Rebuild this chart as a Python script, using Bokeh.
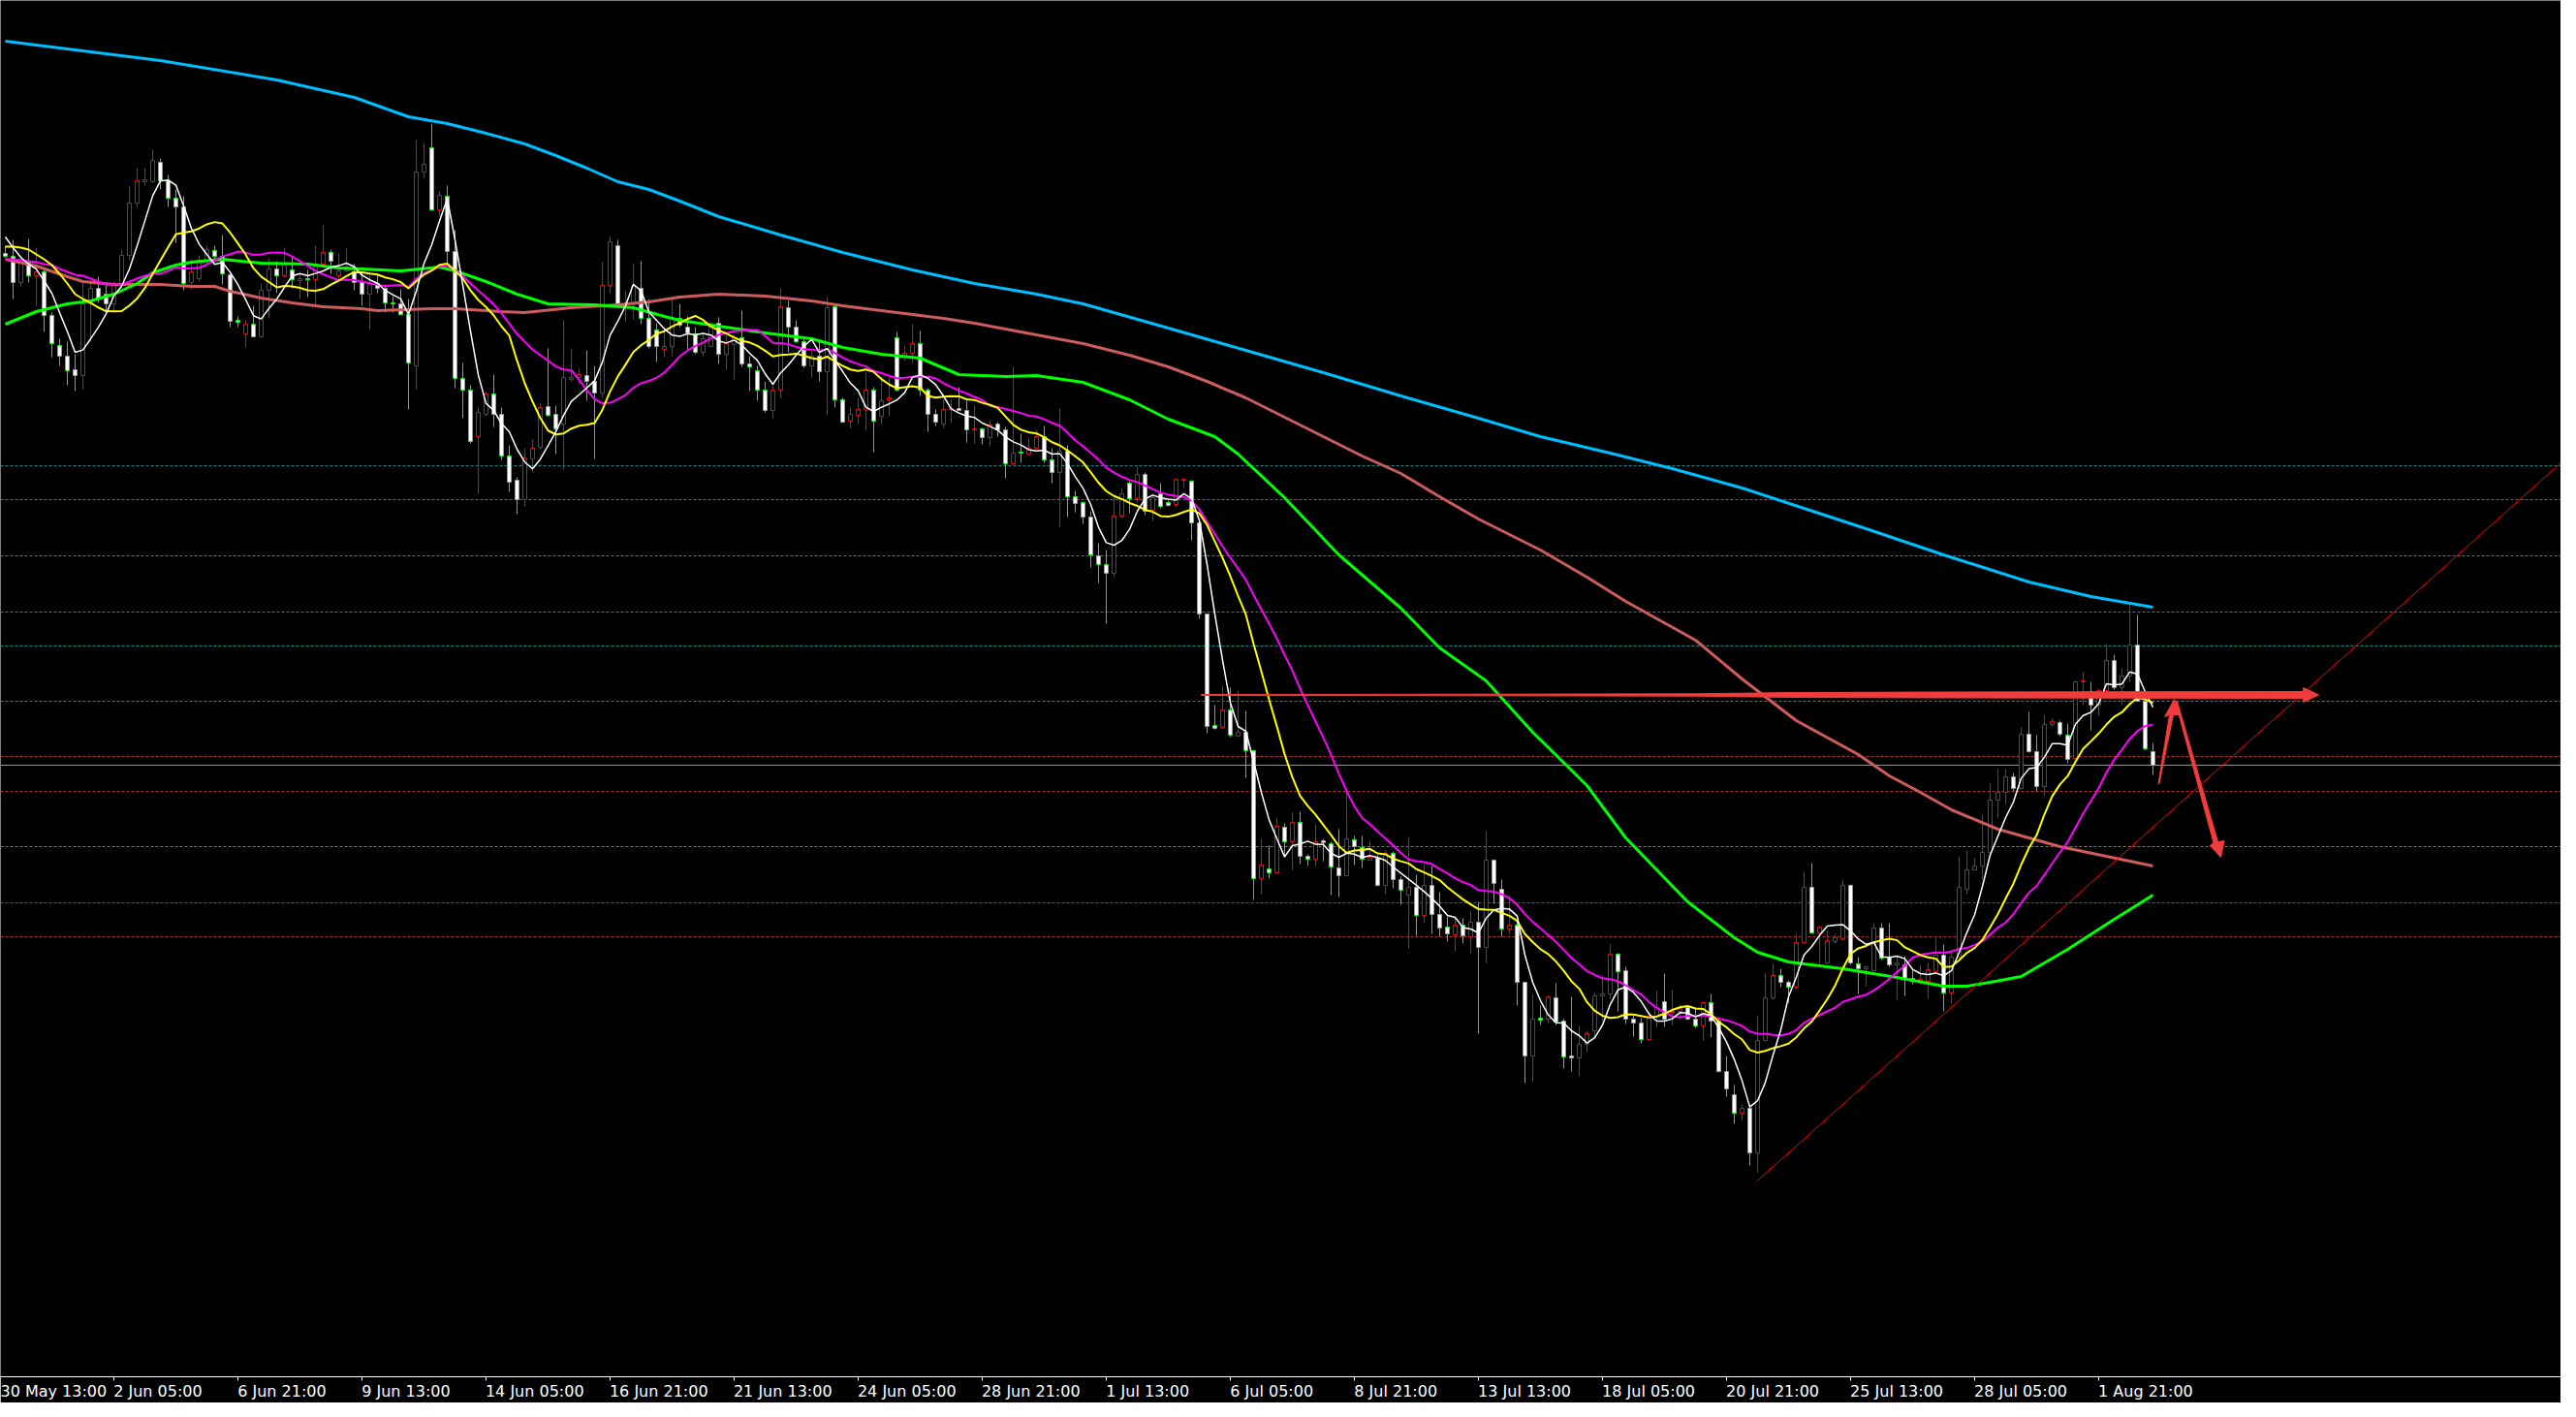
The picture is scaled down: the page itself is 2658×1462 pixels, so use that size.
from bokeh.plotting import figure
from bokeh.models import Range1d, FixedTicker, ColumnDataSource, Span, LinearAxis
from bokeh.embed import file_html
from bokeh.resources import INLINE

# ---------------- data (H4 candles, price in points) ----------------
opens = [1239,1236,1209,1230,1216,1220,1175,1144,1133,1119,
         1113,1187,1203,1197,1187,1206,1237,1291,1313,1313,
         1333,1314,1296,1287,1209,1213,1232,1242,1236,1217,
         1170,1156,1166,1153,1201,1223,1216,1222,1211,1213,
         1212,1228,1240,1216,1221,1220,1209,1197,1208,1203,
         1188,1187,1176,1123,1323,1348,1284,1298,1241,1110,
         1098,1050,1073,1094,1073,1030,1005,985,1027,1039,
         1081,1073,1063,1109,1111,1113,1107,1095,1206,1247,
         1186,1187,1203,1172,1160,1140,1143,1172,1163,1156,
         1137,1143,1167,1135,1145,1152,1125,1118,1098,1077,
         1098,1183,1163,1148,1123,1133,1117,1184,1088,1066,
         1072,1078,1098,1071,1088,1152,1133,1136,1146,1098,
         1073,1063,1078,1079,1077,1057,1058,1049,1063,1057,
         1022,1034,1032,1038,1050,1026,1013,1035,988,982,
         967,927,918,909,968,1002,986,1011,974,991,
         982,980,1005,1004,961,867,752,750,768,741,
         745,726,594,604,600,647,632,652,617,614,
         633,630,605,597,634,626,613,615,587,620,
         593,577,585,556,587,557,544,536,546,534,
         549,523,613,583,542,546,487,411,450,449,
         471,447,411,409,423,437,473,475,516,499,
         449,445,428,452,467,456,457,461,449,442,
         466,447,395,371,352,357,311,427,471,494,
         487,482,528,585,538,507,529,532,587,506,
         501,499,543,513,505,505,491,488,488,498,
         515,476,513,583,603,607,621,675,683,699,
         687,743,725,689,753,755,742,718,797,787,
         773,788,819,791,803,835,777,725]
highs = [1247,1253,1235,1254,1245,1223,1178,1151,1148,1135,
         1210,1210,1215,1206,1210,1243,1309,1327,1327,1346,
         1337,1320,1305,1298,1233,1237,1247,1247,1258,1220,
         1174,1170,1185,1208,1234,1231,1245,1235,1218,1222,
         1247,1268,1243,1239,1244,1228,1220,1217,1217,1207,
         1195,1202,1192,1356,1353,1373,1303,1309,1263,1126,
         1103,1080,1096,1114,1080,1041,1008,1038,1047,1085,
         1141,1082,1170,1141,1120,1139,1123,1230,1256,1253,
         1200,1229,1231,1192,1167,1162,1193,1187,1174,1163,
         1157,1168,1173,1155,1155,1180,1133,1123,1107,1103,
         1203,1190,1170,1152,1138,1148,1194,1185,1090,1080,
         1090,1116,1101,1112,1111,1158,1144,1166,1159,1100,
         1078,1088,1088,1101,1087,1082,1059,1067,1065,1060,
         1122,1053,1048,1057,1061,1038,1079,1041,994,983,
         973,940,933,987,997,1004,1020,1013,991,1002,
         984,1007,1007,1005,963,867,773,793,791,788,
         767,727,635,628,657,651,662,663,619,650,
         635,632,645,683,638,638,633,618,623,622,
         596,637,598,609,607,580,555,553,553,560,
         570,643,614,593,577,550,487,475,463,473,
         486,449,472,442,437,477,494,526,517,503,
         454,450,457,478,496,479,464,463,460,467,
         475,451,411,381,361,361,452,496,506,501,
         489,537,601,610,545,540,537,593,588,513,
         504,548,548,548,514,514,500,505,507,533,
         526,520,616,623,615,661,693,707,707,703,
         750,766,742,763,759,757,754,798,807,797,
         790,836,825,811,877,866,782,734]
lows = [1235,1192,1205,1209,1185,1158,1132,1123,1103,1097,
        1099,1148,1188,1178,1178,1203,1232,1287,1309,1312,
        1305,1287,1250,1201,1202,1210,1228,1230,1207,1163,
        1163,1142,1153,1152,1172,1198,1214,1203,1192,1194,
        1185,1227,1218,1209,1220,1201,1185,1160,1198,1178,
        1178,1175,1078,1099,1316,1283,1277,1228,1100,1069,
        1043,991,1071,1060,1026,993,970,978,1013,1037,
        1071,1032,1016,1107,1104,1087,1027,1090,1198,1185,
        1168,1171,1166,1141,1127,1132,1133,1163,1140,1135,
        1133,1143,1125,1119,1109,1122,1097,1087,1075,1069,
        1090,1137,1147,1121,1111,1107,1072,1080,1064,1059,
        1063,1057,1034,1063,1071,1097,1128,1126,1092,1055,
        1061,1059,1064,1077,1044,1043,1042,1040,1050,1007,
        1022,1023,1031,1037,1023,1002,957,967,972,960,
        915,899,857,905,966,971,982,969,963,976,
        978,977,997,943,862,744,748,749,740,740,
        698,572,578,594,599,617,603,609,607,607,
        612,577,575,596,608,605,613,586,578,584,
        567,522,535,548,537,534,529,519,527,517,
        434,507,568,534,537,463,383,384,443,445,
        443,398,395,390,415,431,447,470,457,444,
        431,424,427,440,441,443,451,448,440,427,
        430,394,369,341,345,298,291,426,469,482,
        466,480,527,537,506,506,527,530,505,475,
        483,498,510,503,469,473,485,485,470,497,
        457,465,512,578,603,593,619,657,671,684,
        686,724,684,679,751,741,713,717,773,747,
        762,787,789,773,797,777,726,701]
closes = [1236,1209,1233,1216,1220,1175,1146,1133,1118,1113,
          1187,1203,1193,1187,1206,1237,1291,1314,1315,1335,
          1314,1296,1287,1208,1220,1232,1243,1236,1218,1169,
          1168,1166,1153,1201,1223,1216,1227,1212,1213,1212,
          1228,1240,1231,1221,1225,1209,1197,1207,1203,1188,
          1187,1176,1126,1323,1331,1284,1299,1241,1110,1098,
          1045,1075,1094,1073,1030,1003,985,1028,1038,1080,
          1072,1058,1111,1111,1114,1107,1095,1206,1251,1187,
          1187,1205,1172,1143,1143,1143,1173,1165,1157,1137,
          1151,1164,1135,1146,1152,1125,1122,1098,1077,1098,
          1184,1163,1148,1123,1133,1117,1183,1088,1065,1073,
          1078,1098,1066,1087,1090,1098,1136,1146,1098,1073,
          1065,1078,1079,1077,1057,1058,1049,1062,1057,1022,
          1033,1033,1038,1050,1026,1013,1035,988,981,967,
          928,918,909,968,991,986,1011,973,987,978,
          979,1006,1006,961,867,751,749,768,742,745,
          726,594,608,600,648,632,652,617,614,632,
          631,606,597,635,627,614,616,587,620,593,
          582,585,556,587,557,543,537,546,535,549,
          523,613,589,542,546,487,411,449,448,472,
          446,410,409,423,434,473,475,516,498,449,
          445,428,452,461,449,457,460,449,442,466,
          447,395,377,352,357,311,427,471,494,487,
          482,528,585,538,544,530,533,587,507,501,
          503,543,512,505,507,490,488,490,500,515,
          476,513,585,603,607,621,675,683,699,687,
          743,725,689,753,756,743,717,797,798,773,
          788,819,791,803,835,777,728,711]

# moving averages: first values (before a full window exists)
white_head = [1256, 1245, 1235, 1228]                                   # SMA 5
yellow_head = [1246, 1246, 1245, 1243, 1238, 1233, 1227, 1218, 1208,
               1197, 1192, 1188]                                        # SMA 13
magenta_head = [1233, 1233, 1232, 1231, 1230, 1228, 1227, 1223, 1220, 1217,
                1216, 1213, 1210, 1207, 1207, 1207, 1210, 1213, 1216, 1218]  # SMA 21

# slower averages at bar indices
green_i = [0, 4, 8, 11, 14, 17, 19, 22, 24, 28, 33, 39, 43, 46, 51, 56, 58, 62, 66, 70,
           76, 81, 85, 87, 92, 98, 104, 108, 113, 118, 123, 129, 133, 139, 145, 150, 156,
           159, 165, 172, 180, 185, 191, 197, 204, 209, 217, 223, 226, 230, 237, 244, 250,
           253, 256, 260, 266, 272, 277]
green_v = [1166, 1179, 1187, 1190, 1197, 1208, 1219, 1227, 1230, 1233, 1229, 1228, 1224,
           1223, 1221, 1225, 1221, 1210, 1197, 1187, 1186, 1183, 1174, 1170, 1164, 1157,
           1151, 1142, 1135, 1131, 1114, 1112, 1113, 1106, 1088, 1068, 1050, 1032, 987,
           928, 873, 832, 798, 745, 690, 636, 570, 533, 518, 508, 501, 492, 483, 483, 487,
           493, 521, 552, 577]
salmon_i = [0, 4, 8, 10, 14, 20, 24, 27, 29, 33, 37, 41, 46, 48, 55, 58, 64, 67, 73, 79,
            83, 87, 92, 98, 104, 108, 113, 117, 121, 125, 129, 133, 139, 145, 150, 155,
            160, 165, 170, 175, 180, 185, 190, 198, 204, 209, 218, 224, 231, 239, 243,
            247, 251, 257, 265, 271, 277]
salmon_v = [1233, 1226, 1215, 1210, 1207, 1207, 1205, 1205, 1200, 1193, 1188, 1184, 1182,
            1180, 1182, 1182, 1179, 1178, 1183, 1186, 1189, 1194, 1197, 1195, 1190, 1185,
            1180, 1176, 1172, 1167, 1161, 1155, 1146, 1134, 1122, 1107, 1090, 1070, 1050,
            1030, 1012, 988, 965, 933, 905, 880, 840, 800, 757, 722, 700, 683, 665, 645,
            627, 617, 607]
blue_i = [0, 20, 35, 45, 52, 57, 62, 67, 71, 75, 79, 83, 87, 92, 95, 100, 108, 117, 125,
          133, 139, 150, 160, 170, 180, 190, 198, 207, 215, 224, 232, 240, 250, 261, 269, 277]
blue_v = [1458, 1438, 1418, 1400, 1380, 1373, 1363, 1352, 1340, 1327, 1313, 1305, 1293,
          1277, 1270, 1258, 1240, 1222, 1208, 1197, 1187, 1162, 1139, 1116, 1092, 1069,
          1050, 1033, 1017, 997, 976, 955, 928, 900, 885, 874]

# horizontal levels
levels_teal = [1020, 985, 869, 834]
levels_seagreen = [927]
levels_green = [777]
levels_red = [720, 684, 569, 534]
levels_brown = [627]

# trend line (bar index, price)
trend_i = [225.9, 332.0]
trend_v = [281.7, 1040.0]

# drawn arrows (bar index, price)
harrow_i = [154.25, 186.9, 218.1, 230.6, 249.4, 296.4, 296.4, 298.4, 296.4, 296.4,
            249.4, 230.6, 218.1, 186.9, 154.25]
harrow_v = [784.0, 784.3, 784.7, 786.0, 786.5, 787.0, 791.0, 783.5, 776.0, 780.0,
            780.5, 781.0, 782.3, 782.7, 783.0]
uparrow_i = [277.69, 279.125, 278.5, 279.75, 280.375, 279.625, 277.81]
uparrow_v = [692, 763, 761, 779, 763, 763, 692]
dnarrow_i = [279.875, 280.125, 285.375, 286.2, 285.75, 284.375, 284.81]
dnarrow_v = [777, 777, 632, 633, 616, 628, 631]

tick_idx = [-2, 14, 30, 46, 62, 78, 94, 110, 126, 142, 158, 174, 190, 206, 222, 238, 254, 270]
tick_labels = ["30 May 13:00", "2 Jun 05:00", "6 Jun 21:00", "9 Jun 13:00", "14 Jun 05:00",
               "16 Jun 21:00", "21 Jun 13:00", "24 Jun 05:00", "28 Jun 21:00", "1 Jul 13:00",
               "6 Jul 05:00", "8 Jul 21:00", "13 Jul 13:00", "18 Jul 05:00", "20 Jul 21:00",
               "25 Jul 13:00", "28 Jul 05:00", "1 Aug 21:00"]


def sma(vals, n, head):
    out = list(head)
    for k in range(len(head), len(vals)):
        out.append(sum(vals[k - n + 1:k + 1]) / n)
    return out


PX = 8.0                       # pixels per bar
FRAME_W, FRAME_H = 2642, 1420
X0 = -0.625
X1 = X0 + FRAME_W / PX
Y1 = 1500
Y0 = Y1 - FRAME_H
FONT_PX = 16

n = len(closes)
idx = list(range(n))

p = figure(frame_width=FRAME_W, frame_height=FRAME_H, output_backend="svg",
           toolbar_location=None,
           x_range=Range1d(X0, X1), y_range=Range1d(Y0, Y1),
           y_axis_location=None, min_border=0, min_border_bottom=24,
           background_fill_color="black", border_fill_color="black",
           outline_line_color=None)
p.grid.visible = False

# axis carrying the line and the tick marks
ax = p.xaxis[0]
ax.ticker = FixedTicker(ticks=[t for t in tick_idx if t >= X0])
ax.major_label_overrides = {t: "" for t in tick_idx}
ax.major_label_text_font_size = "1px"
ax.axis_line_color = "white"
ax.major_tick_line_color = "white"
ax.major_tick_out = 4
ax.major_tick_in = 0
ax.minor_tick_line_color = None
ax.major_label_standoff = 0

# second axis carrying the date labels, left-aligned on their tick
em = {" ": 0.318, ":": 0.337, "J": 0.295, "u": 0.634, "n": 0.634, "M": 0.863,
      "a": 0.613, "y": 0.592, "A": 0.684, "g": 0.635, "l": 0.278}


def text_w(s):
    return sum(em.get(ch, 0.636) for ch in s) * FONT_PX * 0.95


lab_pos = [round(t + 2.0 / PX + text_w(s) / 2.0 / PX, 3)
           for t, s in zip(tick_idx, tick_labels)]
ax2 = LinearAxis(ticker=FixedTicker(ticks=lab_pos),
                 major_label_overrides={pos: s for pos, s in zip(lab_pos, tick_labels)},
                 axis_line_color=None, major_tick_line_color=None,
                 minor_tick_line_color=None, major_tick_out=0, major_tick_in=0,
                 major_label_standoff=1, major_label_text_color="white",
                 major_label_text_font="DejaVu Sans",
                 major_label_text_font_size=f"{FONT_PX}px")
p.add_layout(ax2, "below")


# levels (behind everything)
def add_levels(vals, color):
    for v in vals:
        p.add_layout(Span(location=v, dimension="width", line_color=color,
                          line_width=1, line_dash="3 2", level="underlay"))


add_levels(levels_teal, "#1a8c8c")
add_levels(levels_seagreen, "#2f8a6a")
add_levels(levels_green, "#2e9a2e")
add_levels(levels_red, "#b43030")
add_levels(levels_brown, "#b4643c")
p.add_layout(Span(location=closes[-1], dimension="width", line_color="#8c96a0",
                  line_width=1, level="underlay"))

# candles
upd = dict(x=[], top=[], bottom=[], high=[], low=[])
dnd = dict(x=[], top=[], bottom=[], high=[], low=[])
for i, o, h, l, c in zip(idx, opens, highs, lows, closes):
    d = upd if c >= o else dnd
    d["x"].append(i)
    d["top"].append(max(o, c))
    d["bottom"].append(min(o, c))
    d["high"].append(h)
    d["low"].append(l)
su = ColumnDataSource(upd)
sd = ColumnDataSource(dnd)
p.segment(x0="x", y0="high", x1="x", y1="low", source=su, line_color="#ff0000", line_width=1)
p.vbar(x="x", top="top", bottom="bottom", width=0.5, source=su,
       fill_color="black", line_color="#ff0000", line_width=1)
p.segment(x0="x", y0="high", x1="x", y1="low", source=sd, line_color="#00ff00", line_width=1)
p.vbar(x="x", top="top", bottom="bottom", width=0.5, source=sd,
       fill_color="white", line_color="#00ff00", line_width=1)

# moving averages
p.line(blue_i, blue_v, line_color="#00bfff", line_width=3)
p.line(salmon_i, salmon_v, line_color="#cd5c5c", line_width=3)
p.line(green_i, green_v, line_color="#00ff00", line_width=3)
p.line(idx, sma(closes, 21, magenta_head), line_color="#ff00ff", line_width=2)
p.line(idx, sma(closes, 13, yellow_head), line_color="#ffff00", line_width=2)
p.line(idx, sma(closes, 5, white_head), line_color="white", line_width=1.5)

# drawn objects
p.line(trend_i, trend_v, line_color="#ff0000", line_width=1)
p.patch(harrow_i, harrow_v, fill_color="#f03c3c", line_color="#f03c3c", line_width=1)
p.patch(uparrow_i, uparrow_v, fill_color="#f03c3c", line_color="#f03c3c", line_width=1)
p.patch(dnarrow_i, dnarrow_v, fill_color="#f03c3c", line_color="#f03c3c", line_width=1)

open("out.html", "w").write(file_html(p, INLINE))
